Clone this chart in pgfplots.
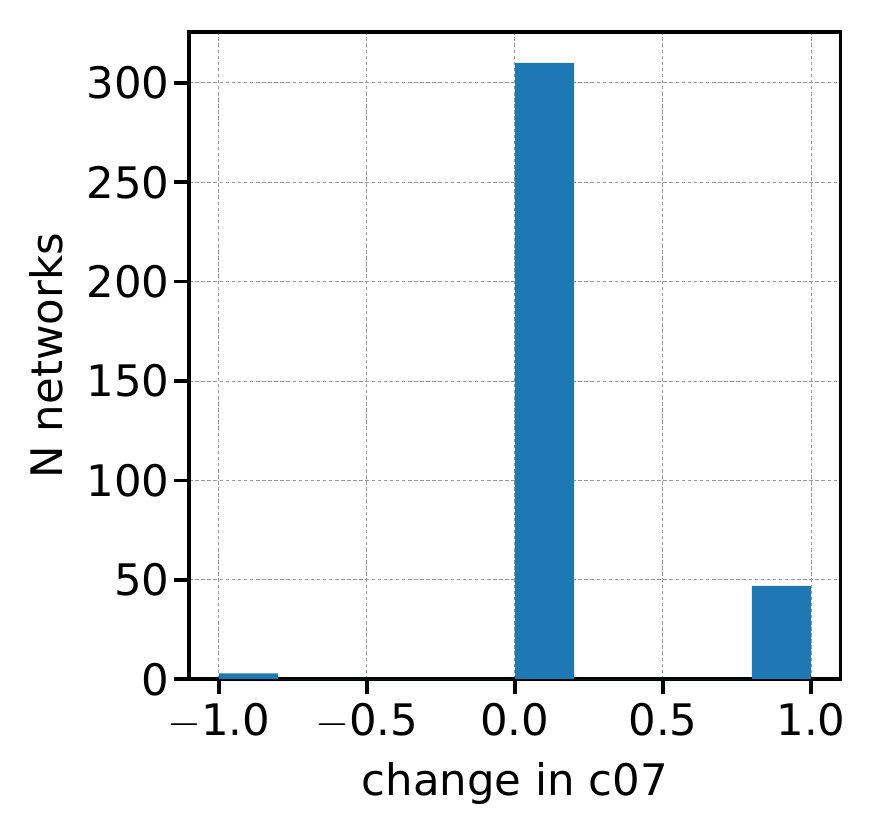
\documentclass[border={3.5pt 3.5pt 3pt 7pt}]{standalone}
\usepackage{fontspec}
\setmainfont{DejaVu Sans}
\usepackage{pgfplots}
\pgfplotsset{compat=1.18}
\definecolor{mplblue}{HTML}{1F77B4}

\begin{document}
\fontsize{10}{12}\selectfont
\begin{tikzpicture}
\begin{axis}[
    width=150pt, height=149pt,
    scale only axis,
    xmin=-1.1, xmax=1.1,
    ymin=0, ymax=325.5,
    xtick={-1,-0.5,0,0.5,1},
    ytick={0,50,100,150,200,250,300},
    /pgf/number format/assume math mode=true,
    xticklabels={$-$1.0,$-$0.5,0.0,0.5,1.0},
    tick align=outside,
    tick style={black, line width=0.8pt},
    major tick length=3.5pt,
    axis line style={line width=0.8pt},
    xtick pos=bottom, ytick pos=left,
    yticklabel style={xshift=2.5pt},
    xticklabel style={yshift=1.5pt},
    grid=major,
    grid style={gray!80, dash pattern=on 0.8pt off 0.6pt, line width=0.2pt},
    xlabel={change in c07},
    ylabel={N networks},
    xlabel style={yshift=1.5pt},
    ylabel style={yshift=-1.5pt},
]
\addplot[ybar interval, fill=mplblue, draw=none] coordinates {
    (-1.0,3) (-0.8,0) (-0.6,0) (-0.4,0) (-0.2,0) (0.0,310) (0.2,0) (0.4,0) (0.6,0) (0.8,47) (1.0,47)
};
\end{axis}
\end{tikzpicture}
\end{document}
